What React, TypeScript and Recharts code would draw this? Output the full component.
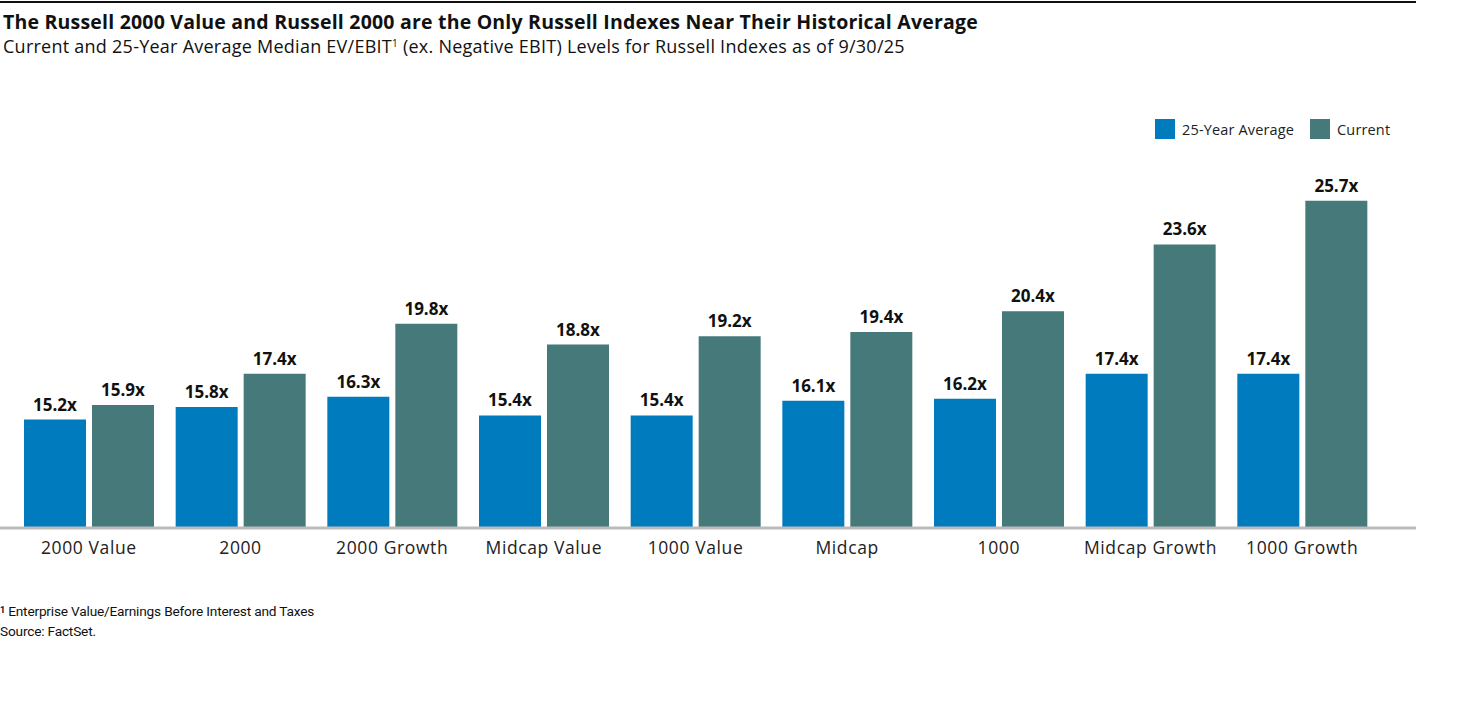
import React from 'react';
import { BarChart, Bar, XAxis, YAxis, LabelList } from 'recharts';

const categories = ['2000 Value', '2000', '2000 Growth', 'Midcap Value', '1000 Value', 'Midcap', '1000', 'Midcap Growth', '1000 Growth'];
const avg25 = [15.2, 15.8, 16.3, 15.4, 15.4, 16.1, 16.2, 17.4, 17.4];
const current = [15.9, 17.4, 19.8, 18.8, 19.2, 19.4, 20.4, 23.6, 25.7];

const data = categories.map((name, i) => ({ name, avg: avg25[i], cur: current[i] }));

const BLUE = '#007bbd';
const TEAL = '#45797a';
const FONT = '"Open Sans", Lato, "Noto Sans", sans-serif';

const fmt = (v: any) => `${Number(v).toFixed(1)}x`;

export default function App() {
  return (
    <div style={{ position: 'absolute', left: 0, top: 0, width: 1476, height: 715, background: '#fff', fontFamily: FONT }}>
      <div style={{ position: 'absolute', left: 0, top: 1, width: 1416, height: 2, background: '#111' }} />
      <div style={{ position: 'absolute', left: 3, top: 8, fontSize: 19.5, fontWeight: 700, color: '#111', whiteSpace: 'nowrap', letterSpacing: 0.2 }}>
        The Russell 2000 Value and Russell 2000 are the Only Russell Indexes Near Their Historical Average
      </div>
      <div style={{ position: 'absolute', left: 3, top: 34, fontSize: 18, color: '#111', whiteSpace: 'nowrap', letterSpacing: 0.25 }}>
        Current and 25-Year Average Median EV/EBIT<sup style={{ fontSize: 10, verticalAlign: 'top', position: 'relative', top: 2 }}>1</sup> (ex. Negative EBIT) Levels for Russell Indexes as of 9/30/25
      </div>
      <div style={{ position: 'absolute', left: 1155, top: 119, display: 'flex', alignItems: 'center', fontSize: 14.5, color: '#222', whiteSpace: 'nowrap', letterSpacing: 0.15 }}>
        <span style={{ width: 20, height: 20, background: BLUE, display: 'inline-block', marginRight: 7 }} />
        <span style={{ marginRight: 16 }}>25-Year Average</span>
        <span style={{ width: 20, height: 20, background: TEAL, display: 'inline-block', marginRight: 7 }} />
        <span>Current</span>
      </div>
      <div style={{ position: 'absolute', left: 0, top: 0 }}>
        <BarChart
          width={1476}
          height={575}
          data={data}
          margin={{ top: 111, right: 60, bottom: 0, left: 0 }}
          barGap={6}
          barSize={62}
        >
          <XAxis
            dataKey="name"
            padding={{ left: 13, right: 38 }}
            axisLine={{ stroke: '#bbbbbb', strokeWidth: 3 }}
            tickLine={false}
            height={47}
            tick={{ fill: '#222', fontSize: 17.5, fontFamily: FONT, letterSpacing: 0.6 }}
            tickMargin={8}
            interval={0}
          />
          <YAxis hide domain={[10, 30]} />
          <Bar dataKey="avg" name="25-Year Average" fill={BLUE} isAnimationActive={false}>
            <LabelList dataKey="avg" position="top" offset={9} formatter={fmt} style={{ fill: '#111', fontSize: 17, fontWeight: 700, fontFamily: FONT }} />
          </Bar>
          <Bar dataKey="cur" name="Current" fill={TEAL} isAnimationActive={false}>
            <LabelList dataKey="cur" position="top" offset={9} formatter={fmt} style={{ fill: '#111', fontSize: 17, fontWeight: 700, fontFamily: FONT }} />
          </Bar>
        </BarChart>
      </div>
      <div style={{ position: 'absolute', left: 0, top: 601, fontSize: 13.7, color: '#111', fontFamily: 'Roboto, "Liberation Sans Narrow", sans-serif', lineHeight: '20px', letterSpacing: -0.2 }}>
        <div><sup style={{ fontSize: 9, verticalAlign: 'top', position: 'relative', top: -1, fontWeight: 700 }}>1</sup> Enterprise Value/Earnings Before Interest and Taxes</div>
        <div>Source: FactSet.</div>
      </div>
    </div>
  );
}
